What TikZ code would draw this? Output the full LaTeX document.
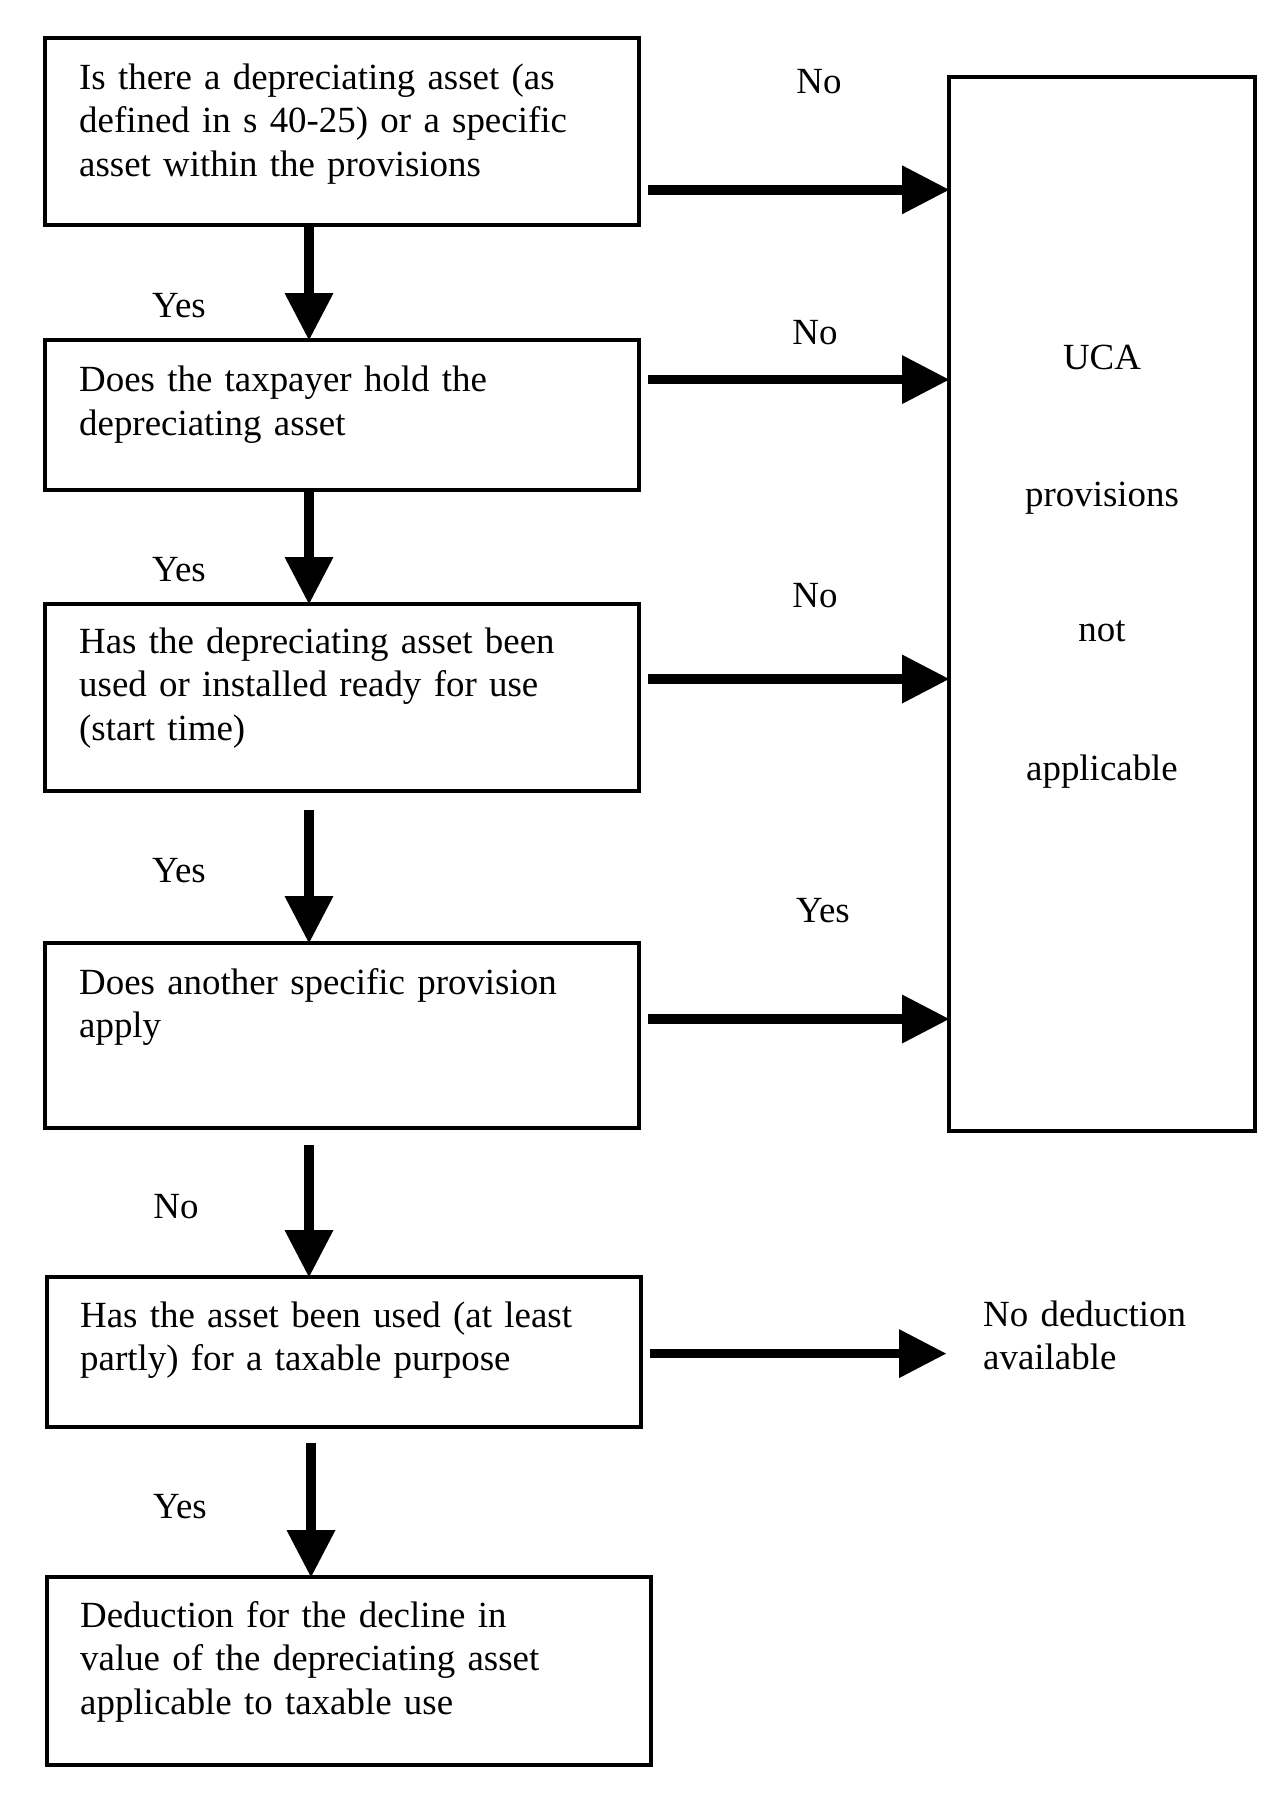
\documentclass[tikz,border=0pt]{standalone}
\usepackage{fontspec}
\setmainfont{Liberation Serif}
\usetikzlibrary{arrows.meta}
\newcommand\myfsz{\fontsize{36.9pt}{43.5pt}\selectfont}
\begin{document}
\begin{tikzpicture}[x=1pt,y=-1pt,
  box/.style={draw, line width=3.2pt, anchor=north west, inner sep=0pt, outer sep=0pt},
  txt/.style={anchor=base west, inner sep=0pt, text width=580pt, align=left, font=\myfsz},
  lbl/.style={anchor=base, inner sep=0pt, font=\myfsz},
  arr/.style={line width=9.5pt, -{Triangle[width=49pt,length=47pt,line width=0pt 0 0]}}]
\useasboundingbox (0,0) rectangle (1277,1813);
\fill[white] (0,0) rectangle (1277,1813);

% boxes
\node[box, minimum width=594pt, minimum height=187pt] (b1) at (45,38) {};
\node[box, minimum width=594pt, minimum height=150pt] (b2) at (45,340) {};
\node[box, minimum width=594pt, minimum height=187pt] (b3) at (45,604) {};
\node[box, minimum width=594pt, minimum height=185pt] (b4) at (45,943) {};
\node[box, minimum width=594pt, minimum height=150pt] (b5) at (47,1277) {};
\node[box, minimum width=604pt, minimum height=188pt] (b6) at (47,1577) {};
\node[box, minimum width=306pt, minimum height=1054pt] (rb) at (949,77) {};

% box texts
\node[txt] (t1) at (79,89) {Is there a depreciating asset (as\\defined in s 40-25) or a specific\\asset within the provisions};
\node[txt] (t2) at (79,391.5) {Does the taxpayer hold the\\depreciating asset};
\node[txt] (t3) at (79,653) {Has the depreciating asset been\\used or installed ready for use\\(start time)};
\node[txt] (t4) at (79,994) {Does another specific provision\\apply};
\node[txt] (t5) at (80,1327) {Has the asset been used (at least\\partly) for a taxable purpose};
\node[txt] (t6) at (80,1627) {Deduction for the decline in\\value of the depreciating asset\\applicable to taxable use};
\node[txt] (nd) at (983,1326) {No deduction\\available};

% right box texts
\node[lbl] (u1) at (1102,369.7) {UCA};
\node[lbl] (u2) at (1102,506) {provisions};
\node[lbl] (u3) at (1102,641.5) {not};
\node[lbl] (u4) at (1102,780) {applicable};

% labels
\node[lbl] (ly1) at (179,317.5) {Yes};
\node[lbl] (ly2) at (179,581) {Yes};
\node[lbl] (ly3) at (179,882) {Yes};
\node[lbl] (ln4) at (176,1218) {No};
\node[lbl] (ly5) at (180,1518.6) {Yes};
\node[lbl] (ln1) at (819,93) {No};
\node[lbl] (ln2) at (815,344) {No};
\node[lbl] (ln3) at (815,607) {No};
\node[lbl] (ly4) at (823,922) {Yes};

% vertical arrows
\coordinate (vx) at (309,0);
\draw[arr] (b1.south -| vx) -- (b2.north -| vx);
\draw[arr] (b2.south -| vx) -- (b3.north -| vx);
\coordinate (s3) at (309,810);
\draw[arr] (s3) -- (s3 |- b4.north);
\coordinate (s4) at (309,1145);
\draw[arr] (s4) -- (s4 |- b5.north);
\coordinate (s5) at (311,1443);
\draw[arr] (s5) -- (s5 |- b6.north);

% horizontal arrows
\coordinate (h1) at (648,189.8);
\draw[arr] (h1) -- (h1 -| rb.west);
\coordinate (h2) at (648,379.6);
\draw[arr] (h2) -- (h2 -| rb.west);
\coordinate (h3) at (648,679);
\draw[arr] (h3) -- (h3 -| rb.west);
\coordinate (h4) at (648,1019);
\draw[arr] (h4) -- (h4 -| rb.west);
\coordinate (h5) at (650,1353.6);
\coordinate (e5) at (946,1353.6);
\draw[arr] (h5) -- (e5);
\end{tikzpicture}
\end{document}
